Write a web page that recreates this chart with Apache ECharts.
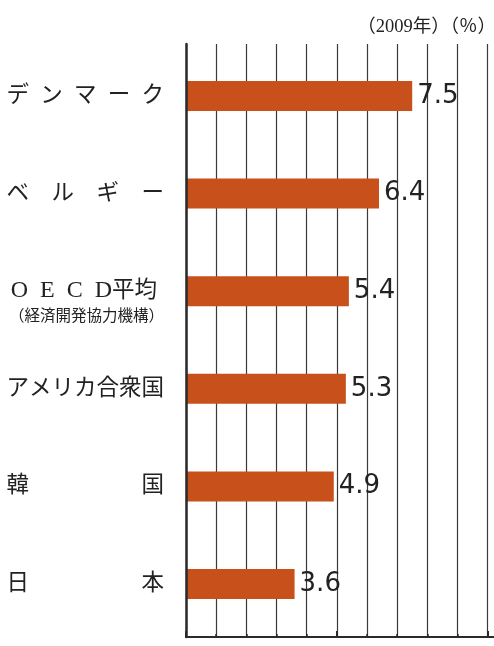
<!DOCTYPE html>
<html><head><meta charset="utf-8">
<script src="https://cdn.jsdelivr.net/npm/echarts@6/dist/echarts.min.js"></script>
<style>html,body{margin:0;padding:0;background:#fff}#c{width:494px;height:646px}</style>
</head><body><div id="c"></div>
<script>
const categories = ['デンマーク','ベルギー','OECD平均','アメリカ合衆国','韓国','日本'];
const categoryLabels = ['デ\u2002ン\u2002マ\u2002ー\u2002ク','ベ\u3000ル\u3000ギ\u3000ー','O\u2002E\u2002C\u2002D|平均','アメリカ合衆国','韓\u3000\u3000\u3000\u3000\u3000国','日\u3000\u3000\u3000\u3000\u3000本'];
const oecdNote = '（経済開発協力機構）';
const values = [7.5, 6.4, 5.4, 5.3, 4.9, 3.6];
const titleText = '（2009年）（％）';

const unit = 30.16, axisMax = 15;
const plotW = unit * axisMax;
const serifCJK = '"Liberation Serif","Noto Sans CJK JP"';
const ink = '#2a2a2a';

const chart = echarts.init(document.getElementById('c'), null, {renderer: 'canvas'});
chart.setOption({
  animation: false,
  backgroundColor: '#fff',
  title: {
    text: titleText, right: -7, top: 13,
    textStyle: {fontSize: 18.5, fontWeight: 'normal', fontFamily: serifCJK, color: '#222'}
  },
  grid: [
    {left: 186, top: 44, width: plotW, height: 593, outerBoundsMode: 'none', containLabel: false},
    {left: 186, top: 47.2, width: plotW, height: 585.6, outerBoundsMode: 'none', containLabel: false}
  ],
  xAxis: [
    {gridIndex: 0, type: 'value', position: 'top', min: 0, max: axisMax, interval: 5,
     axisLine: {show: true, lineStyle: {color: ink, width: 2}},
     axisTick: {show: true, length: 6, lineStyle: {color: ink, width: 2}},
     minorTick: {show: true, splitNumber: 5, length: 3, lineStyle: {color: ink, width: 1.5}},
     splitLine: {show: true, lineStyle: {color: '#3a3a3a', width: 1.2}},
     minorSplitLine: {show: true, lineStyle: {color: '#3a3a3a', width: 1.2}},
     axisLabel: {show: false}},
    {gridIndex: 0, type: 'value', position: 'bottom', min: 0, max: axisMax,
     axisLine: {show: true, lineStyle: {color: ink, width: 2}},
     axisTick: {show: false}, minorTick: {show: false}, splitLine: {show: false}, axisLabel: {show: false}},
    {gridIndex: 1, type: 'value', min: 0, max: axisMax, show: false}
  ],
  yAxis: [
    {gridIndex: 0, type: 'value', z: 10,
     axisLine: {show: true, lineStyle: {color: ink, width: 2.5}},
     axisTick: {show: false}, axisLabel: {show: false}, splitLine: {show: false}},
    {gridIndex: 1, type: 'category', inverse: true, data: categories,
     axisLine: {show: false}, axisTick: {show: false}, splitLine: {show: false},
     axisLabel: {
       margin: 22,
       formatter: function (v, i) {
         const t = categoryLabels[i];
         if (v === 'OECD平均') {
           const parts = t.split('|');
           return '{e| }\n{o|' + parts[0] + '}{p|' + parts[1] + '}\n{s|' + oecdNote + '}';
         }
         return '{a|' + t + '}';
       },
       rich: {
         a: {fontSize: 22.5, fontFamily: serifCJK, color: '#222', lineHeight: 30},
         o: {fontSize: 24, fontFamily: serifCJK, color: '#222', lineHeight: 30},
         p: {fontSize: 22.5, fontFamily: serifCJK, color: '#222', lineHeight: 30, padding: [0, 7, 0, 0]},
         s: {fontSize: 15.5, fontFamily: serifCJK, color: '#222', lineHeight: 22},
         e: {fontSize: 10, lineHeight: 22}
       }
     }}
  ],
  series: [{
    type: 'bar', xAxisIndex: 2, yAxisIndex: 1, data: values, barWidth: 30,
    itemStyle: {color: '#c8511b'},
    label: {show: true, position: 'right', distance: 5, fontSize: 26,
            fontFamily: '"DejaVu Sans"', color: '#222'}
  }]
});
</script></body></html>
